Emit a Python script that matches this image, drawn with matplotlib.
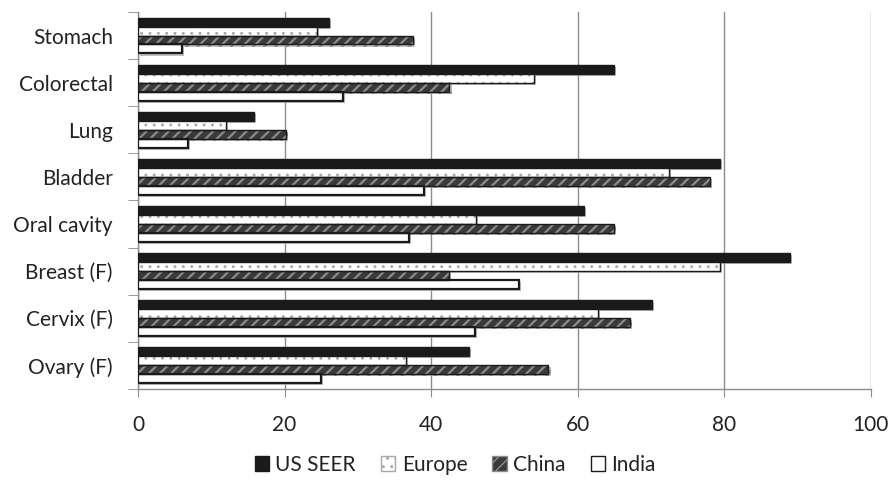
import matplotlib
matplotlib.use("Agg")
import matplotlib.pyplot as plt
import matplotlib.patheffects as pe
from matplotlib.patches import Patch
import numpy as np

plt.rcParams['font.family'] = ['Lato', 'DejaVu Sans']

sites = ["Stomach", "Colorectal", "Lung", "Bladder", "Oral cavity",
         "Breast (F)", "Cervix (F)", "Ovary (F)"]
us_seer = [26, 65, 15.8, 79.4, 60.8, 89, 70.1, 45.2]
europe = [24.4, 54, 12, 72.4, 46.1, 79.4, 62.7, 36.6]
china = [37.5, 42.5, 20.2, 78, 65, 42.4, 67.1, 56]
india = [6, 28, 6.8, 39, 37, 52, 46, 25]
x_ticks = [0, 20, 40, 60, 80, 100]

series = [
    ("US SEER", us_seer, dict(facecolor="#1a1a1a", edgecolor="#1a1a1a", hatch=None, hlw=1.0)),
    ("Europe", europe, dict(facecolor="white", edgecolor="#a8a8a8", hatch="..", hlw=0.9)),
    ("China", china, dict(facecolor="#3a3a3a", edgecolor="#8c8c8c", hatch="///", hlw=1.6)),
    ("India", india, dict(facecolor="white", edgecolor="#1a1a1a", hatch=None, hlw=1.0)),
]

fig = plt.figure(figsize=(8.96, 4.8), dpi=100)
ax = fig.add_axes([0.154, 0.19, 0.818, 0.785])

n = len(sites)
centers = np.arange(n)
bh = 0.19
offsets = [-1.5 * bh, -0.5 * bh, 0.5 * bh, 1.5 * bh]
shadow = [pe.SimplePatchShadow(offset=(1.5, -1.5), shadow_rgbFace="#b0b0b0", alpha=0.8), pe.Normal()]

handles = []
for (name, vals, st), off in zip(series, offsets):
    with plt.rc_context({"hatch.linewidth": st["hlw"]}):
        bars = ax.barh(centers + off, vals, height=bh, facecolor=st["facecolor"],
                       edgecolor=st["edgecolor"], hatch=st["hatch"],
                       linewidth=0 if st["hatch"] else 1.0, zorder=3)
        handles.append(Patch(facecolor=st["facecolor"],
                             edgecolor=st["edgecolor"] if st["hatch"] else "#1a1a1a",
                             hatch=st["hatch"], label=name))
    for b in bars:
        b.set_path_effects(shadow)
    if name == "India":
        for b in bars:
            b.set_linewidth(1.6)
    if name in ("Europe", "China"):
        # dark outline drawn over the patterned fill
        ax.barh(centers + off, vals, height=bh, facecolor="none",
                edgecolor="#1a1a1a", linewidth=1.0, zorder=4)

ax.set_xlim(0, 100)
ax.set_ylim(n - 0.5, -0.5)
ax.set_xticks(x_ticks)
ax.set_xticklabels([str(t) for t in x_ticks], fontsize=15, color="#222222")
ax.set_yticks(centers)
ax.set_yticklabels(sites, fontsize=15, color="#222222")
ax.set_yticks(np.arange(n + 1) - 0.5, minor=True)
ax.tick_params(axis="y", which="major", length=0, pad=18)
ax.tick_params(axis="y", which="minor", length=7, color="#8c8c8c", direction="out")
ax.tick_params(axis="x", length=6, color="#8c8c8c", direction="out", pad=13)

ax.grid(axis="x", color="#8c8c8c", linewidth=1.0, zorder=0)
for s in ["top", "right"]:
    ax.spines[s].set_visible(False)
for s in ["left", "bottom"]:
    ax.spines[s].set_color("#8c8c8c")
    ax.spines[s].set_linewidth(1.0)

fig.legend(handles=handles, loc="center", bbox_to_anchor=(0.508, 0.032), ncol=4,
           frameon=False, fontsize=15, handlelength=0.7, handleheight=0.7,
           handletextpad=0.3, columnspacing=1.2, labelcolor="#222222")

fig.savefig("out.png", dpi=100)
